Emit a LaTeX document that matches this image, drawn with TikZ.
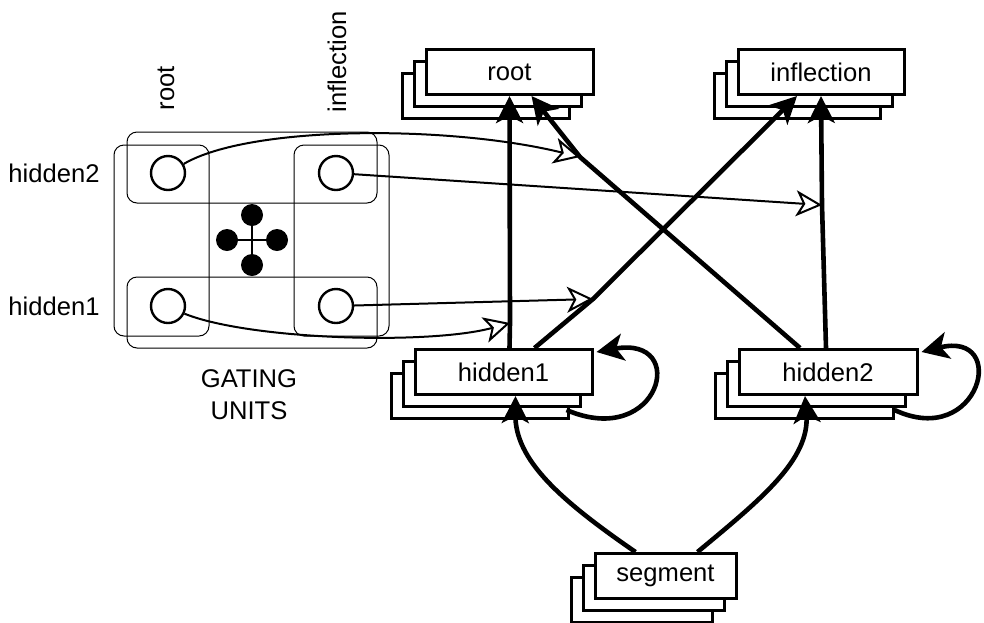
\documentclass[tikz,border=0pt]{standalone}
\usepackage{fontspec}
\setmainfont{Liberation Sans}
\usetikzlibrary{arrows.meta,shadows,calc}

\begin{document}
\begin{tikzpicture}[x=0.5pt,y=-0.5pt,
    font=\fontsize{12.8pt}{16pt}\selectfont,
    layer/.style={draw,line width=1.5pt,fill=white,minimum height=22.5pt,inner sep=0pt,
      double copy shadow={shadow xshift=-6pt,shadow yshift=-6pt}},
    gate/.style={circle,draw,line width=1.2pt,minimum size=17pt,inner sep=0pt},
    dot/.style={circle,fill,minimum size=11pt,inner sep=0pt},
    unit/.style={rounded corners=5pt,line width=0.5pt},
    link/.style={line width=2.3pt,-{Stealth[length=13.5pt,width=13.5pt,inset=3.5pt]}},
    gating/.style={line width=1pt,-{Stealth[length=13pt,width=13pt,inset=3.5pt,fill=white]}}]
  \useasboundingbox (0,0) rectangle (984,622);
  \node[layer,minimum width=83.5pt] (root) at (509.5,72) {root};
  \node[layer,minimum width=83pt] (inflection) at (821,72) {inflection};
  \node[layer,minimum width=88.5pt] (hidden1) at (503.5,372) {hidden1};
  \node[layer,minimum width=89pt] (hidden2) at (828,372) {hidden2};
  \node[layer,minimum width=70.5pt] (segment) at (665.5,576) {segment};

  \draw[unit] (127,132) rectangle (377,203);
  \draw[unit] (127,277) rectangle (377,348);
  \draw[unit] (114,145) rectangle (209,336);
  \draw[unit] (294,145) rectangle (389,336);
  \node[gate] (groot2) at (168,173) {};
  \node[gate] (ginf2) at (336,173) {};
  \node[gate] (groot1) at (168,306) {};
  \node[gate] (ginf1) at (336,306) {};
  \node[dot] (dn) at (252,215) {};
  \node[dot] (ds) at (252,265) {};
  \node[dot] (dw) at (227,240) {};
  \node[dot] (de) at (277,240) {};
  \draw[line width=1pt] (dn) -- (ds) (dw) -- (de);

  \node (lh2) at (54,173) {hidden2};
  \node (lh1) at (54,306) {hidden1};
  \node[rotate=90] (lroot) at (166,88) {root};
  \node[rotate=90] (linf) at (337,62) {inflection};
  \node[align=center] (lgate) at (249,395) {GATING\\UNITS};

  \coordinate (j1) at (580,157);
  \coordinate (j2) at (822,205);
  \coordinate (j3) at (593,299);
  \coordinate (j4) at (510,323);

  \draw[gating] (groot2.30) .. controls (250,125) and (450,125) .. (j1);
  \draw[gating] (ginf2) -- (j2);
  \draw[gating] (ginf1) -- (j3);
  \draw[gating] (groot1.-25) .. controls (250,340) and (430,345) .. (j4);

  \draw[link] ([xshift=3pt]hidden1.north) -- (j4) -- (root.south);
  \draw[link] ([xshift=-14pt]hidden2.north) -- (j1) -- ([xshift=11pt]root.south);
  \draw[link] ([xshift=15.5pt]hidden1.north) -- (j3) -- ([xshift=-12pt]inflection.south);
  \draw[link] ([xshift=-1pt]hidden2.north) -- (j2) -- (inflection.south);
  \draw[link] ($(hidden1.south east)+(-27,14)$) .. controls (660,450) and (690,335) .. ($(hidden1.north east)+(3,4)$);
  \draw[link] ($(hidden2.south east)+(-24,14)$) .. controls (980,450) and (1010,330) .. ($(hidden2.north east)+(3,4)$);
  \draw[link] ([xshift=-15pt]segment.north) .. controls (560,500) and (515,460) .. ([xshift=6pt]hidden1.south);
  \draw[link] ([xshift=16pt]segment.north) .. controls (760,500) and (810,460) .. ([xshift=-11.5pt]hidden2.south);
\end{tikzpicture}
\end{document}
